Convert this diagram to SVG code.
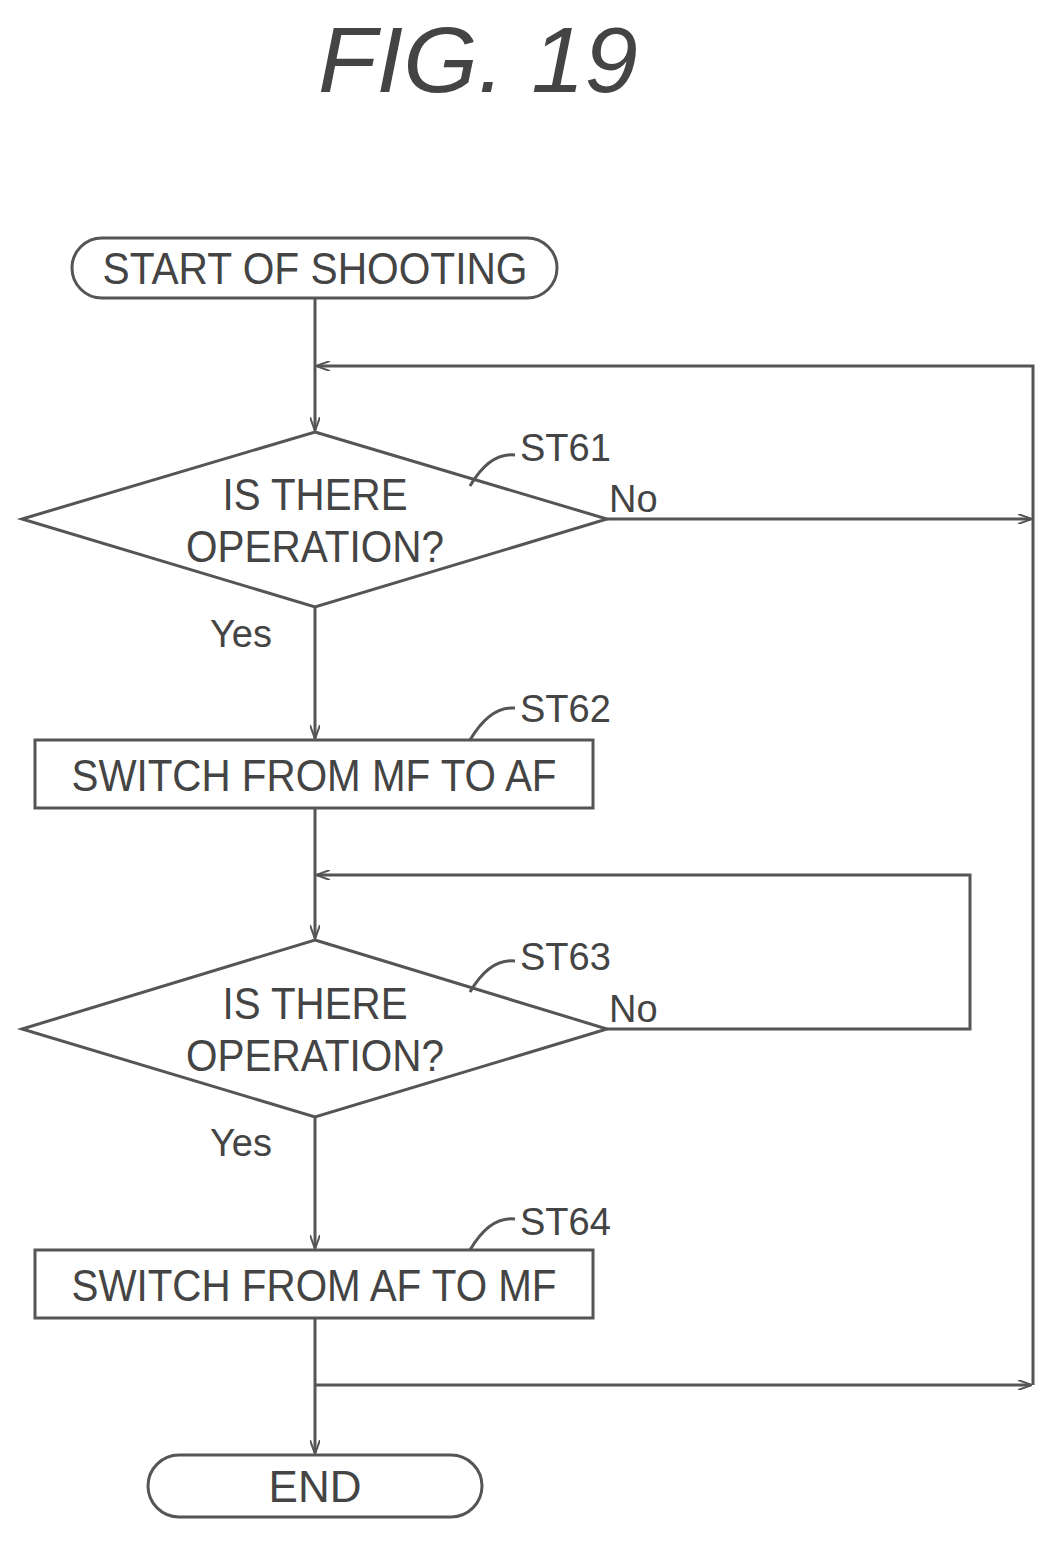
<svg xmlns="http://www.w3.org/2000/svg" width="1061" height="1541" viewBox="0 0 1061 1541">
<defs>
<marker id="a" markerWidth="14" markerHeight="10" refX="13" refY="5" orient="auto" markerUnits="userSpaceOnUse"><path d="M0,0 L14,5 L0,10" fill="none" stroke="#555" stroke-width="2"/></marker>
</defs>
<style>
.s{fill:none;stroke:#555;stroke-width:3}
.t{font-family:"Liberation Sans",Arial,sans-serif;font-size:44px;fill:#444}
.l{font-family:"Liberation Sans",Arial,sans-serif;font-size:38px;fill:#444}
</style>
<rect width="1061" height="1541" fill="#fff"/>
<text x="478" y="92" text-anchor="middle" font-family="Liberation Sans,Arial,sans-serif" font-style="italic" font-size="92" fill="#444" textLength="320" lengthAdjust="spacingAndGlyphs">FIG. 19</text>
<g id="connectors" class="s">
<line x1="315" y1="298" x2="315" y2="430" marker-end="url(#a)"/>
<polyline points="1033,1385 1033,366 317,366" marker-end="url(#a)"/>
<line x1="607" y1="519" x2="1031" y2="519" marker-end="url(#a)"/>
<line x1="315" y1="607" x2="315" y2="738" marker-end="url(#a)"/>
<line x1="315" y1="808" x2="315" y2="938" marker-end="url(#a)"/>
<polyline points="607,1029 970,1029 970,875 317,875" marker-end="url(#a)"/>
<line x1="315" y1="1117" x2="315" y2="1248" marker-end="url(#a)"/>
<line x1="315" y1="1318" x2="315" y2="1453" marker-end="url(#a)"/>
<line x1="315" y1="1385" x2="1031" y2="1385" marker-end="url(#a)"/>
<path d="M470,486 Q490,452 515,455"/>
<path d="M470,740 Q490,706 515,708"/>
<path d="M470,992 Q490,958 515,961"/>
<path d="M470,1250 Q490,1216 515,1219"/>
</g>
<g id="start"><rect class="s" x="72" y="238" width="485" height="60" rx="30"/><text class="t" x="315" y="284" text-anchor="middle" textLength="425" lengthAdjust="spacingAndGlyphs">START OF SHOOTING</text></g>
<g id="st61"><polygon class="s" points="315,432 607,519 315,607 22,519"/><text class="t" x="315" y="510" text-anchor="middle" textLength="185" lengthAdjust="spacingAndGlyphs">IS THERE</text><text class="t" x="315" y="562" text-anchor="middle" textLength="258" lengthAdjust="spacingAndGlyphs">OPERATION?</text><text class="l" x="520" y="461">ST61</text><text class="l" x="609" y="512">No</text><text class="l" x="210" y="647">Yes</text></g>
<g id="st62"><rect class="s" x="35" y="740" width="558" height="68"/><text class="t" x="314" y="791" text-anchor="middle" textLength="485" lengthAdjust="spacingAndGlyphs">SWITCH FROM MF TO AF</text><text class="l" x="520" y="722">ST62</text></g>
<g id="st63"><polygon class="s" points="315,940 607,1029 315,1117 22,1029"/><text class="t" x="315" y="1019" text-anchor="middle" textLength="185" lengthAdjust="spacingAndGlyphs">IS THERE</text><text class="t" x="315" y="1071" text-anchor="middle" textLength="258" lengthAdjust="spacingAndGlyphs">OPERATION?</text><text class="l" x="520" y="970">ST63</text><text class="l" x="609" y="1022">No</text><text class="l" x="210" y="1156">Yes</text></g>
<g id="st64"><rect class="s" x="35" y="1250" width="558" height="68"/><text class="t" x="314" y="1301" text-anchor="middle" textLength="485" lengthAdjust="spacingAndGlyphs">SWITCH FROM AF TO MF</text><text class="l" x="520" y="1235">ST64</text></g>
<g id="end"><rect class="s" x="148" y="1455" width="334" height="62" rx="31"/><text class="t" x="315" y="1502" text-anchor="middle">END</text></g>
</svg>
